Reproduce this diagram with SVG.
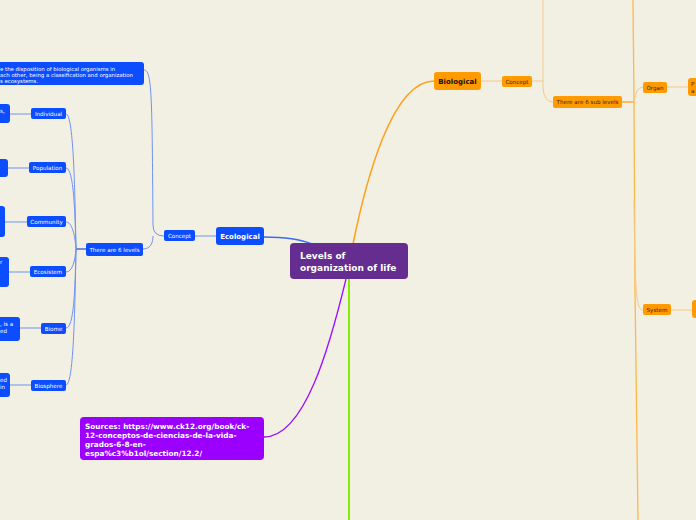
<svg xmlns="http://www.w3.org/2000/svg" width="696" height="520" viewBox="0 0 696 520">
<style>
.bg{fill:#f2efe3}
.b{fill:#0b4dff}
.o{fill:#ff9a00}
.t{font-family:"DejaVu Sans",Verdana,sans-serif}
.w{fill:#ffffff}
.d{fill:#3a2600}
.s{font-size:5.6px}
.bold{font-weight:bold}
.lb{fill:none;stroke:#6f93f2;stroke-width:1}
.lo{fill:none;stroke:#f7c984;stroke-width:1}
</style>
<rect class="bg" x="0" y="0" width="696" height="520"/>
<g id="connectors">
  <path d="M264,237 C285,237 300,239 312,244" fill="none" stroke="#3a6cf0" stroke-width="1.5"/>
  <path class="lb" d="M195,236 L216,236" stroke-width="1.3"/>
  <path class="lb" d="M144,70 C152,70 152,95 153,225 Q153,236 164,236"/>
  <path class="lb" d="M143,249 C151,249 153,242 153,236"/>
  <path d="M76,249 L86,249" fill="none" stroke="#2c55d8" stroke-width="1.3"/>
  <path class="lb" d="M66,114 C74,114 75,200 76,249"/>
  <path class="lb" d="M66,168 C74,168 75,215 76,249"/>
  <path class="lb" d="M66,222 C72,222 75,235 76,249"/>
  <path class="lb" d="M66,272 C72,272 75,262 76,249"/>
  <path class="lb" d="M66,328 C74,328 75,290 76,249"/>
  <path class="lb" d="M66,385 C74,385 75,300 76,249"/>
  <path class="lb" d="M10,114 L31,114"/>
  <path class="lb" d="M8,168 L29,168"/>
  <path class="lb" d="M5,222 L27,222"/>
  <path class="lb" d="M9,272 L30,272"/>
  <path class="lb" d="M20,328 L41,328"/>
  <path class="lb" d="M10,385 L31,385"/>
  <path d="M353,244 C366,180 392,81 434,81" fill="none" stroke="#ffa01a" stroke-width="1.5"/>
  <path d="M349,279 L349,520" fill="none" stroke="#84ee00" stroke-width="2"/>
  <path d="M346,279 C330,345 305,437 264,437" fill="none" stroke="#9a10ff" stroke-width="1.3"/>
  <path class="lo" d="M481,81 L502,81" stroke-width="1.3"/>
  <path class="lo" d="M532,81 L543,81"/>
  <path class="lo" d="M543,0 L543,88 Q544,102 553,102"/>
  <path d="M622,102 L634,102" fill="none" stroke="#ffa020" stroke-width="1.3"/>
  <path d="M633,0 L634,102 L635,290 L638,520" fill="none" stroke="#ffb84a" stroke-width="1.3"/>
  <path class="lo" d="M634,102 Q636,87 643,87"/>
  <path class="lo" d="M634,200 C635,290 636,310 643,310"/>
  <path class="lo" d="M667,87 L688,87"/>
  <path class="lo" d="M671,310 L692,310"/>
</g>
<g id="center">
  <rect x="290" y="243" width="118" height="36" rx="4" fill="#662d91"/>
  <text class="t bold w" x="300" y="259" font-size="9">Levels of</text>
  <text class="t bold w" x="300" y="271" font-size="9">organization of life</text>
</g>
<g id="ecological">
  <rect class="b" x="216" y="227" width="48" height="18" rx="3"/>
  <text class="t bold w" x="240" y="239" font-size="7" text-anchor="middle">Ecological</text>
</g>
<g id="eco-concept">
  <rect class="b" x="164" y="230" width="31" height="11" rx="2"/>
  <text class="t w s" x="179.5" y="237.8" text-anchor="middle">Concept</text>
</g>
<g id="eco-concept-text">
  <rect class="b" x="-6" y="62" width="150" height="23" rx="3"/>
  <text class="t w" x="0" y="70.5" font-size="5.4">e the disposition of biological organisms in</text>
  <text class="t w" x="0" y="76.5" font-size="5.4">ach other, being a classification and organization</text>
  <text class="t w" x="0" y="82.5" font-size="5.4">s ecosystems.</text>
</g>
<g id="six-levels">
  <rect class="b" x="86" y="243" width="57" height="13" rx="2"/>
  <text class="t w s" x="114.5" y="251.5" text-anchor="middle">There are 6 levels</text>
</g>
<g id="individual">
  <rect class="b" x="31" y="108" width="35" height="11" rx="2"/>
  <text class="t w s" x="48.5" y="115.8" text-anchor="middle">Individual</text>
</g>
<g id="individual-text">
  <rect class="b" x="-6" y="104" width="16" height="19" rx="3"/>
  <text class="t w s" x="0" y="113">s,</text>
</g>
<g id="population">
  <rect class="b" x="29" y="162" width="37" height="11" rx="2"/>
  <text class="t w s" x="47.5" y="169.8" text-anchor="middle">Population</text>
</g>
<g id="population-text">
  <rect class="b" x="-6" y="159" width="14" height="18" rx="3"/>
</g>
<g id="community">
  <rect class="b" x="27" y="216" width="39" height="11" rx="2"/>
  <text class="t w s" x="46.5" y="223.8" text-anchor="middle">Community</text>
</g>
<g id="community-text">
  <rect class="b" x="-6" y="206" width="11" height="31" rx="3"/>
</g>
<g id="ecosistem">
  <rect class="b" x="30" y="266" width="36" height="11" rx="2"/>
  <text class="t w s" x="48" y="273.8" text-anchor="middle">Ecosistem</text>
</g>
<g id="ecosistem-text">
  <rect class="b" x="-6" y="257" width="15" height="30" rx="3"/>
  <text class="t w s" x="0" y="264">r</text>
</g>
<g id="biome">
  <rect class="b" x="41" y="323" width="25" height="11" rx="2"/>
  <text class="t w s" x="53.5" y="330.8" text-anchor="middle">Biome</text>
</g>
<g id="biome-text">
  <rect class="b" x="-6" y="317" width="26" height="24" rx="3"/>
  <text class="t w s" x="0" y="326">, is a</text>
  <text class="t w s" x="0" y="332.5">ed</text>
</g>
<g id="biosphere">
  <rect class="b" x="31" y="380" width="35" height="11" rx="2"/>
  <text class="t w s" x="48.5" y="387.8" text-anchor="middle">Biosphere</text>
</g>
<g id="biosphere-text">
  <rect class="b" x="-6" y="373" width="16" height="24" rx="3"/>
  <text class="t w s" x="0" y="382">ed</text>
  <text class="t w s" x="0" y="388.5">in</text>
</g>
<g id="sources">
  <rect x="80" y="417" width="184" height="43" rx="4" fill="#9b00ff"/>
  <text class="t bold w" x="85" y="429" font-size="7.3">Sources: https://www.ck12.org/book/ck-</text>
  <text class="t bold w" x="85" y="438" font-size="7.3">12-conceptos-de-ciencias-de-la-vida-</text>
  <text class="t bold w" x="85" y="447" font-size="7.3">grados-6-8-en-</text>
  <text class="t bold w" x="85" y="456" font-size="7.3">espa%c3%b1ol/section/12.2/</text>
</g>
<g id="biological">
  <rect class="o" x="434" y="72" width="47" height="18" rx="3"/>
  <text class="t bold" x="457.5" y="84" font-size="7" text-anchor="middle" fill="#1a1000">Biological</text>
</g>
<g id="bio-concept">
  <rect class="o" x="502" y="76" width="30" height="11" rx="2"/>
  <text class="t d s" x="517" y="83.8" text-anchor="middle">Concept</text>
</g>
<g id="six-sub-levels">
  <rect class="o" x="553" y="96" width="69" height="12" rx="2"/>
  <text class="t d s" x="587.5" y="104.2" text-anchor="middle">There are 6 sub levels</text>
</g>
<g id="organ">
  <rect class="o" x="643" y="82" width="24" height="11" rx="2"/>
  <text class="t d s" x="655" y="89.8" text-anchor="middle">Organ</text>
</g>
<g id="organ-text">
  <rect class="o" x="688" y="78" width="14" height="18" rx="3"/>
  <text class="t d s" x="691" y="86">P</text>
  <text class="t d s" x="691" y="92.5">a</text>
</g>
<g id="system">
  <rect class="o" x="643" y="304" width="28" height="11" rx="2"/>
  <text class="t d s" x="657" y="311.8" text-anchor="middle">System</text>
</g>
<g id="system-text">
  <rect class="o" x="692" y="300" width="10" height="18" rx="3"/>
</g>
</svg>
